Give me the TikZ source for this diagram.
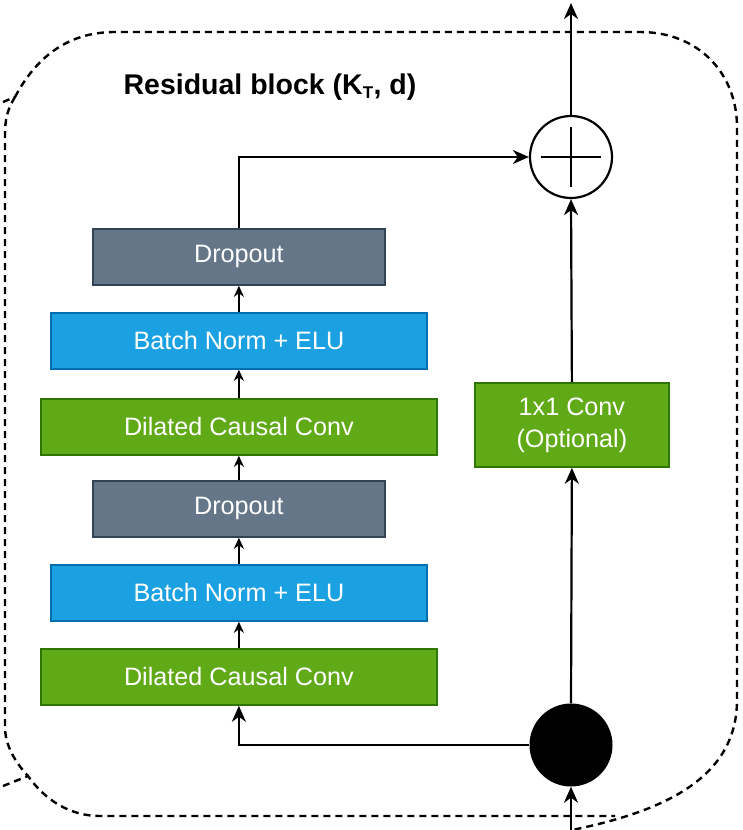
\documentclass[tikz,border=0pt]{standalone}
\usepackage{fontspec}
\setmainfont{Liberation Sans}
\usetikzlibrary{arrows.meta,calc}
\definecolor{grayfill}{HTML}{647687}
\definecolor{graydraw}{HTML}{314354}
\definecolor{bluefill}{HTML}{1BA1E2}
\definecolor{bluedraw}{HTML}{006EAF}
\definecolor{greenfill}{HTML}{60A917}
\definecolor{greendraw}{HTML}{2D7600}
\begin{document}
\begin{tikzpicture}[x=1pt,y=-1pt,
  box/.style={draw, line width=1.8pt, text=white, inner sep=0pt, anchor=north west,
    font=\fontsize{25.2}{30}\selectfont, align=center},
  dropbox/.style={box, fill=grayfill, draw=graydraw},
  bnbox/.style={box, fill=bluefill, draw=bluedraw},
  convbox/.style={box, fill=greenfill, draw=greendraw},
  main/.style={line width=2.2pt, -{Stealth[length=16pt,width=14pt,inset=5pt]}},
  small/.style={line width=2pt, -{Stealth[length=11pt,width=10pt,inset=3.5pt]}},
  bound/.style={line width=2.4pt, dash pattern=on 7pt off 5pt}
]
\useasboundingbox (0,0) rectangle (742,830);
% dashed boundary
\draw[bound] (3,102) -- (15,97);
\draw[bound] (15,97) .. controls (40,50) and (75,32) .. (115,32) -- (640,32)
  .. controls (700,32) and (737,75) .. (737,127) -- (737,700)
  .. controls (737,780) and (660,812) .. (572,830);
\draw[bound] (15,97) .. controls (7,110) and (5,120) .. (5,135) -- (5,727)
  .. controls (5,745) and (15,762) .. (28,776);
\draw[bound] (3,786) -- (28,776) .. controls (45,800) and (70,816) .. (100,816) -- (615,816);

% title
\node[font=\bfseries\fontsize{28.5}{32}\selectfont] (title) at (270,87) {Residual block (K\textsubscript{\fontsize{17}{20}\selectfont T}, d)};

% boxes
\node[dropbox, minimum width=292pt, minimum height=56pt] (drop1) at (92,228) {Dropout};
\node[bnbox, minimum width=376pt, minimum height=56pt] (bn1) at (50,312) {Batch Norm + ELU};
\node[convbox, minimum width=396pt, minimum height=56pt] (dcc1) at (40,398) {Dilated Causal Conv};
\node[dropbox, minimum width=292pt, minimum height=56pt] (drop2) at (92,480) {Dropout};
\node[bnbox, minimum width=376pt, minimum height=56pt] (bn2) at (50,564) {Batch Norm + ELU};
\node[convbox, minimum width=396pt, minimum height=56pt] (dcc2) at (40,648) {Dilated Causal Conv};
\node[convbox, minimum width=194pt, minimum height=84pt, font=\fontsize{25.2}{32}\selectfont] (conv1) at (474,382) {1x1 Conv\\(Optional)};

% circles
\node[circle, draw, line width=2.2pt, minimum size=82pt, inner sep=0pt] (plus) at (571,157) {};
\draw[line width=2.2pt] ($(plus.center)+(-30,0)$) -- ($(plus.center)+(30,0)$);
\draw[line width=2.2pt] ($(plus.center)+(0,-30)$) -- ($(plus.center)+(0,30)$);
\node[circle, fill=black, minimum size=83pt, inner sep=0pt] (split) at (571,745) {};
\coordinate (out) at (571,3);
\coordinate (in) at (571,830);

% connectors
\draw[main] (in) -- (split.south);
\draw[main] (split.north) -- (conv1.south);
\draw[main] (conv1.north) -- (plus.south);
\draw[main] (plus.north) -- (out);
\draw[main] (split.west) -| (dcc2.south);
\draw[small] (dcc2.north) -- (bn2.south);
\draw[small] (bn2.north) -- (drop2.south);
\draw[small] (drop2.north) -- (dcc1.south);
\draw[small] (dcc1.north) -- (bn1.south);
\draw[small] (bn1.north) -- (drop1.south);
\draw[main] (drop1.north) |- (plus.west);
\end{tikzpicture}
\end{document}
